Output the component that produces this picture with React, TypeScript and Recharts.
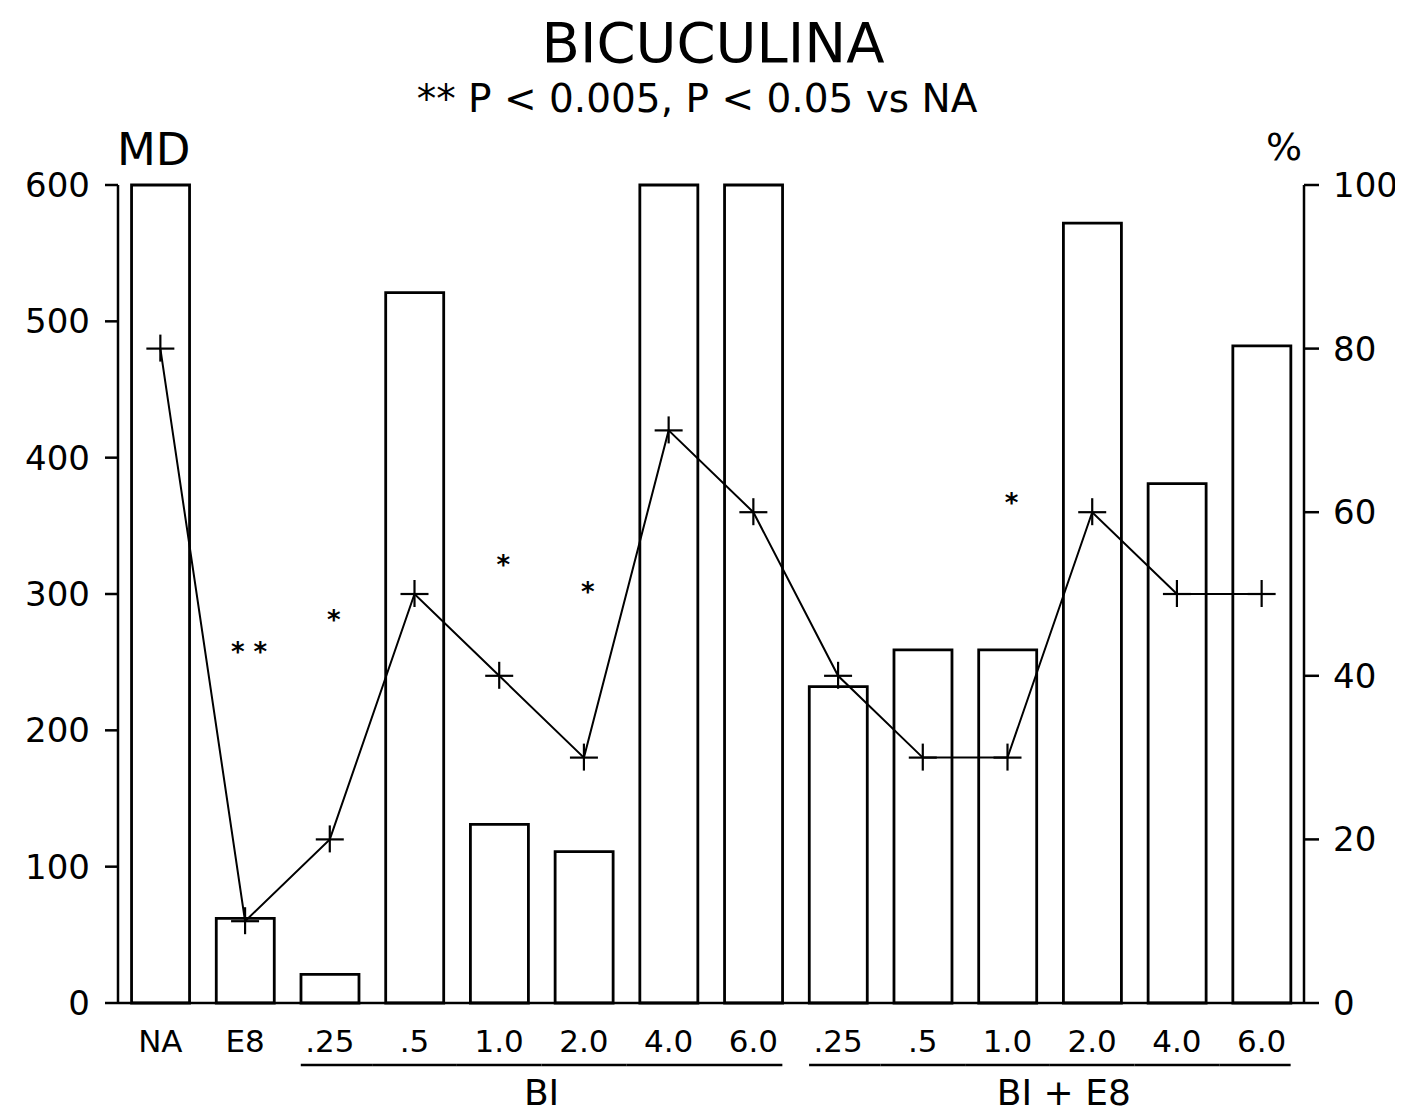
import { ComposedChart, Bar, Line, XAxis, YAxis } from "recharts";

// categories along the x axis (keys are unique, labels repeat)
const catKeys = [
  "NA", "E8",
  "BI .25", "BI .5", "BI 1.0", "BI 2.0", "BI 4.0", "BI 6.0",
  "BE .25", "BE .5", "BE 1.0", "BE 2.0", "BE 4.0", "BE 6.0",
];
const tickLabels = [
  "NA", "E8",
  ".25", ".5", "1.0", "2.0", "4.0", "6.0",
  ".25", ".5", "1.0", "2.0", "4.0", "6.0",
];

// bars: MD (left axis)
const mdValues = [600, 62, 21, 521, 131, 111, 600, 600, 232, 259, 259, 572, 381, 482];
// line: % (right axis)
const pctValues = [80, 10, 20, 50, 40, 30, 70, 60, 40, 30, 30, 60, 50, 50];
// significance marks: how many stars, and at what MD height they sit
const sigStars = [0, 2, 1, 0, 1, 1, 0, 0, 0, 0, 1, 0, 0, 0];
const sigLevel = [null, 262, 285, null, 326, 306, null, null, null, null, 371, null, null, null];

const mdTicks = [0, 100, 200, 300, 400, 500, 600];
const pctTicks = [0, 20, 40, 60, 80, 100];

const groups = [
  { label: "BI", from: 2, to: 7 },
  { label: "BI + E8", from: 8, to: 13 },
];

const data = catKeys.map((key, i) => ({
  key,
  md: mdValues[i],
  pct: pctValues[i],
  sig: sigLevel[i],
  stars: sigStars[i],
}));

const W = 1395;
const H = 1111;
const LEFT_W = 110;
const RIGHT_W = 99;
const TOP = 177;
const X_H = 116;
const BAND = (W - LEFT_W - RIGHT_W) / catKeys.length;
const HALF_BAR = 29;
const FONT = "'DejaVu Sans', sans-serif";

function XTick(props: any) {
  const { x, y, payload } = props;
  const i = catKeys.indexOf(payload.value);
  const g = groups.find((gr) => i >= gr.from && i <= gr.to);
  return (
    <g>
      <text x={x} y={y + 49} textAnchor="middle" fontSize={31} fontFamily={FONT} fill="#000">
        {tickLabels[i]}
      </text>
      {g && (
        <line
          x1={i === g.from ? x - HALF_BAR : x - BAND / 2}
          x2={i === g.to ? x + HALF_BAR : x + BAND / 2}
          y1={y + 62}
          y2={y + 62}
          stroke="#000"
          strokeWidth={2.5}
        />
      )}
      {g && i === g.from && (
        <text
          x={x + ((g.to - g.from) / 2) * BAND + (g.from > 2 ? 14 : 0)}
          y={y + 102}
          textAnchor="middle"
          fontSize={36}
          fontFamily={FONT}
          fill="#000"
        >
          {g.label}
        </text>
      )}
    </g>
  );
}

function renderCross(p: any) {
  const { cx, cy, index } = p;
  if (cx == null || cy == null) return <g key={`c${index}`} />;
  return (
    <g key={`c${index}`}>
      <line x1={cx - 14} x2={cx + 14} y1={cy} y2={cy} stroke="#000" strokeWidth={2.2} />
      <line x1={cx} x2={cx} y1={cy - 14} y2={cy + 13} stroke="#000" strokeWidth={2.2} />
    </g>
  );
}

function renderStars(p: any) {
  const { cx, cy, index, payload } = p;
  if (cx == null || cy == null || !payload || !payload.stars) return <g key={`s${index}`} />;
  const txt = payload.stars === 2 ? "* *" : "*";
  return (
    <text
      key={`s${index}`}
      x={cx + 4}
      y={cy + 15}
      textAnchor="middle"
      fontSize={26}
      fontWeight="bold"
      fontFamily={FONT}
      fill="#000"
    >
      {txt}
    </text>
  );
}

export default function App() {
  return (
    <div style={{ position: "relative", width: W, height: H, background: "#fff" }}>
      <ComposedChart
        width={W}
        height={H}
        data={data}
        margin={{ top: TOP, right: 0, bottom: 0, left: 0 }}
        barCategoryGap="16%"
      >
        <XAxis
          dataKey="key"
          type="category"
          height={X_H}
          interval={0}
          tickLine={false}
          tickSize={0}
          tickMargin={0}
          axisLine={{ stroke: "#000", strokeWidth: 2.5 }}
          tick={<XTick />}
        />
        <YAxis
          yAxisId="md"
          orientation="left"
          width={LEFT_W}
          domain={[0, 600]}
          ticks={mdTicks}
          interval={0}
          tickSize={13}
          tickMargin={15}
          axisLine={{ stroke: "#000", strokeWidth: 2.5 }}
          tickLine={{ stroke: "#000", strokeWidth: 2.5 }}
          tick={{ fill: "#000", fontSize: 34, fontFamily: FONT }}
        />
        <YAxis
          yAxisId="pct"
          orientation="right"
          width={RIGHT_W}
          domain={[0, 100]}
          ticks={pctTicks}
          interval={0}
          tickSize={15}
          tickMargin={14}
          axisLine={{ stroke: "#000", strokeWidth: 2.5 }}
          tickLine={{ stroke: "#000", strokeWidth: 2.5 }}
          tick={{ fill: "#000", fontSize: 34, fontFamily: FONT }}
        />
        <Bar
          yAxisId="md"
          dataKey="md"
          fill="#fff"
          stroke="#000"
          strokeWidth={2.8}
          isAnimationActive={false}
        />
        <Line
          yAxisId="pct"
          dataKey="pct"
          type="linear"
          stroke="#000"
          strokeWidth={2}
          dot={renderCross}
          activeDot={false}
          isAnimationActive={false}
        />
        <Line
          yAxisId="md"
          dataKey="sig"
          stroke="none"
          dot={renderStars}
          activeDot={false}
          isAnimationActive={false}
        />
      </ComposedChart>
      <svg
        width={W}
        height={H}
        style={{ position: "absolute", left: 0, top: 0, pointerEvents: "none" }}
      >
        <text x={705} y={54} textAnchor="middle" fontSize={56} fontFamily={FONT} fill="#000">
          BICUCULINA
        </text>
        <text x={689} y={104} textAnchor="middle" fontSize={39} fontFamily={FONT} fill="#000">
          ** P &lt; 0.005, P &lt; 0.05 vs NA
        </text>
        <text x={109} y={157} fontSize={45} fontFamily={FONT} fill="#000">
          MD
        </text>
        <text x={1294} y={152} textAnchor="end" fontSize={38} fontFamily={FONT} fill="#000">
          %
        </text>
      </svg>
    </div>
  );
}
